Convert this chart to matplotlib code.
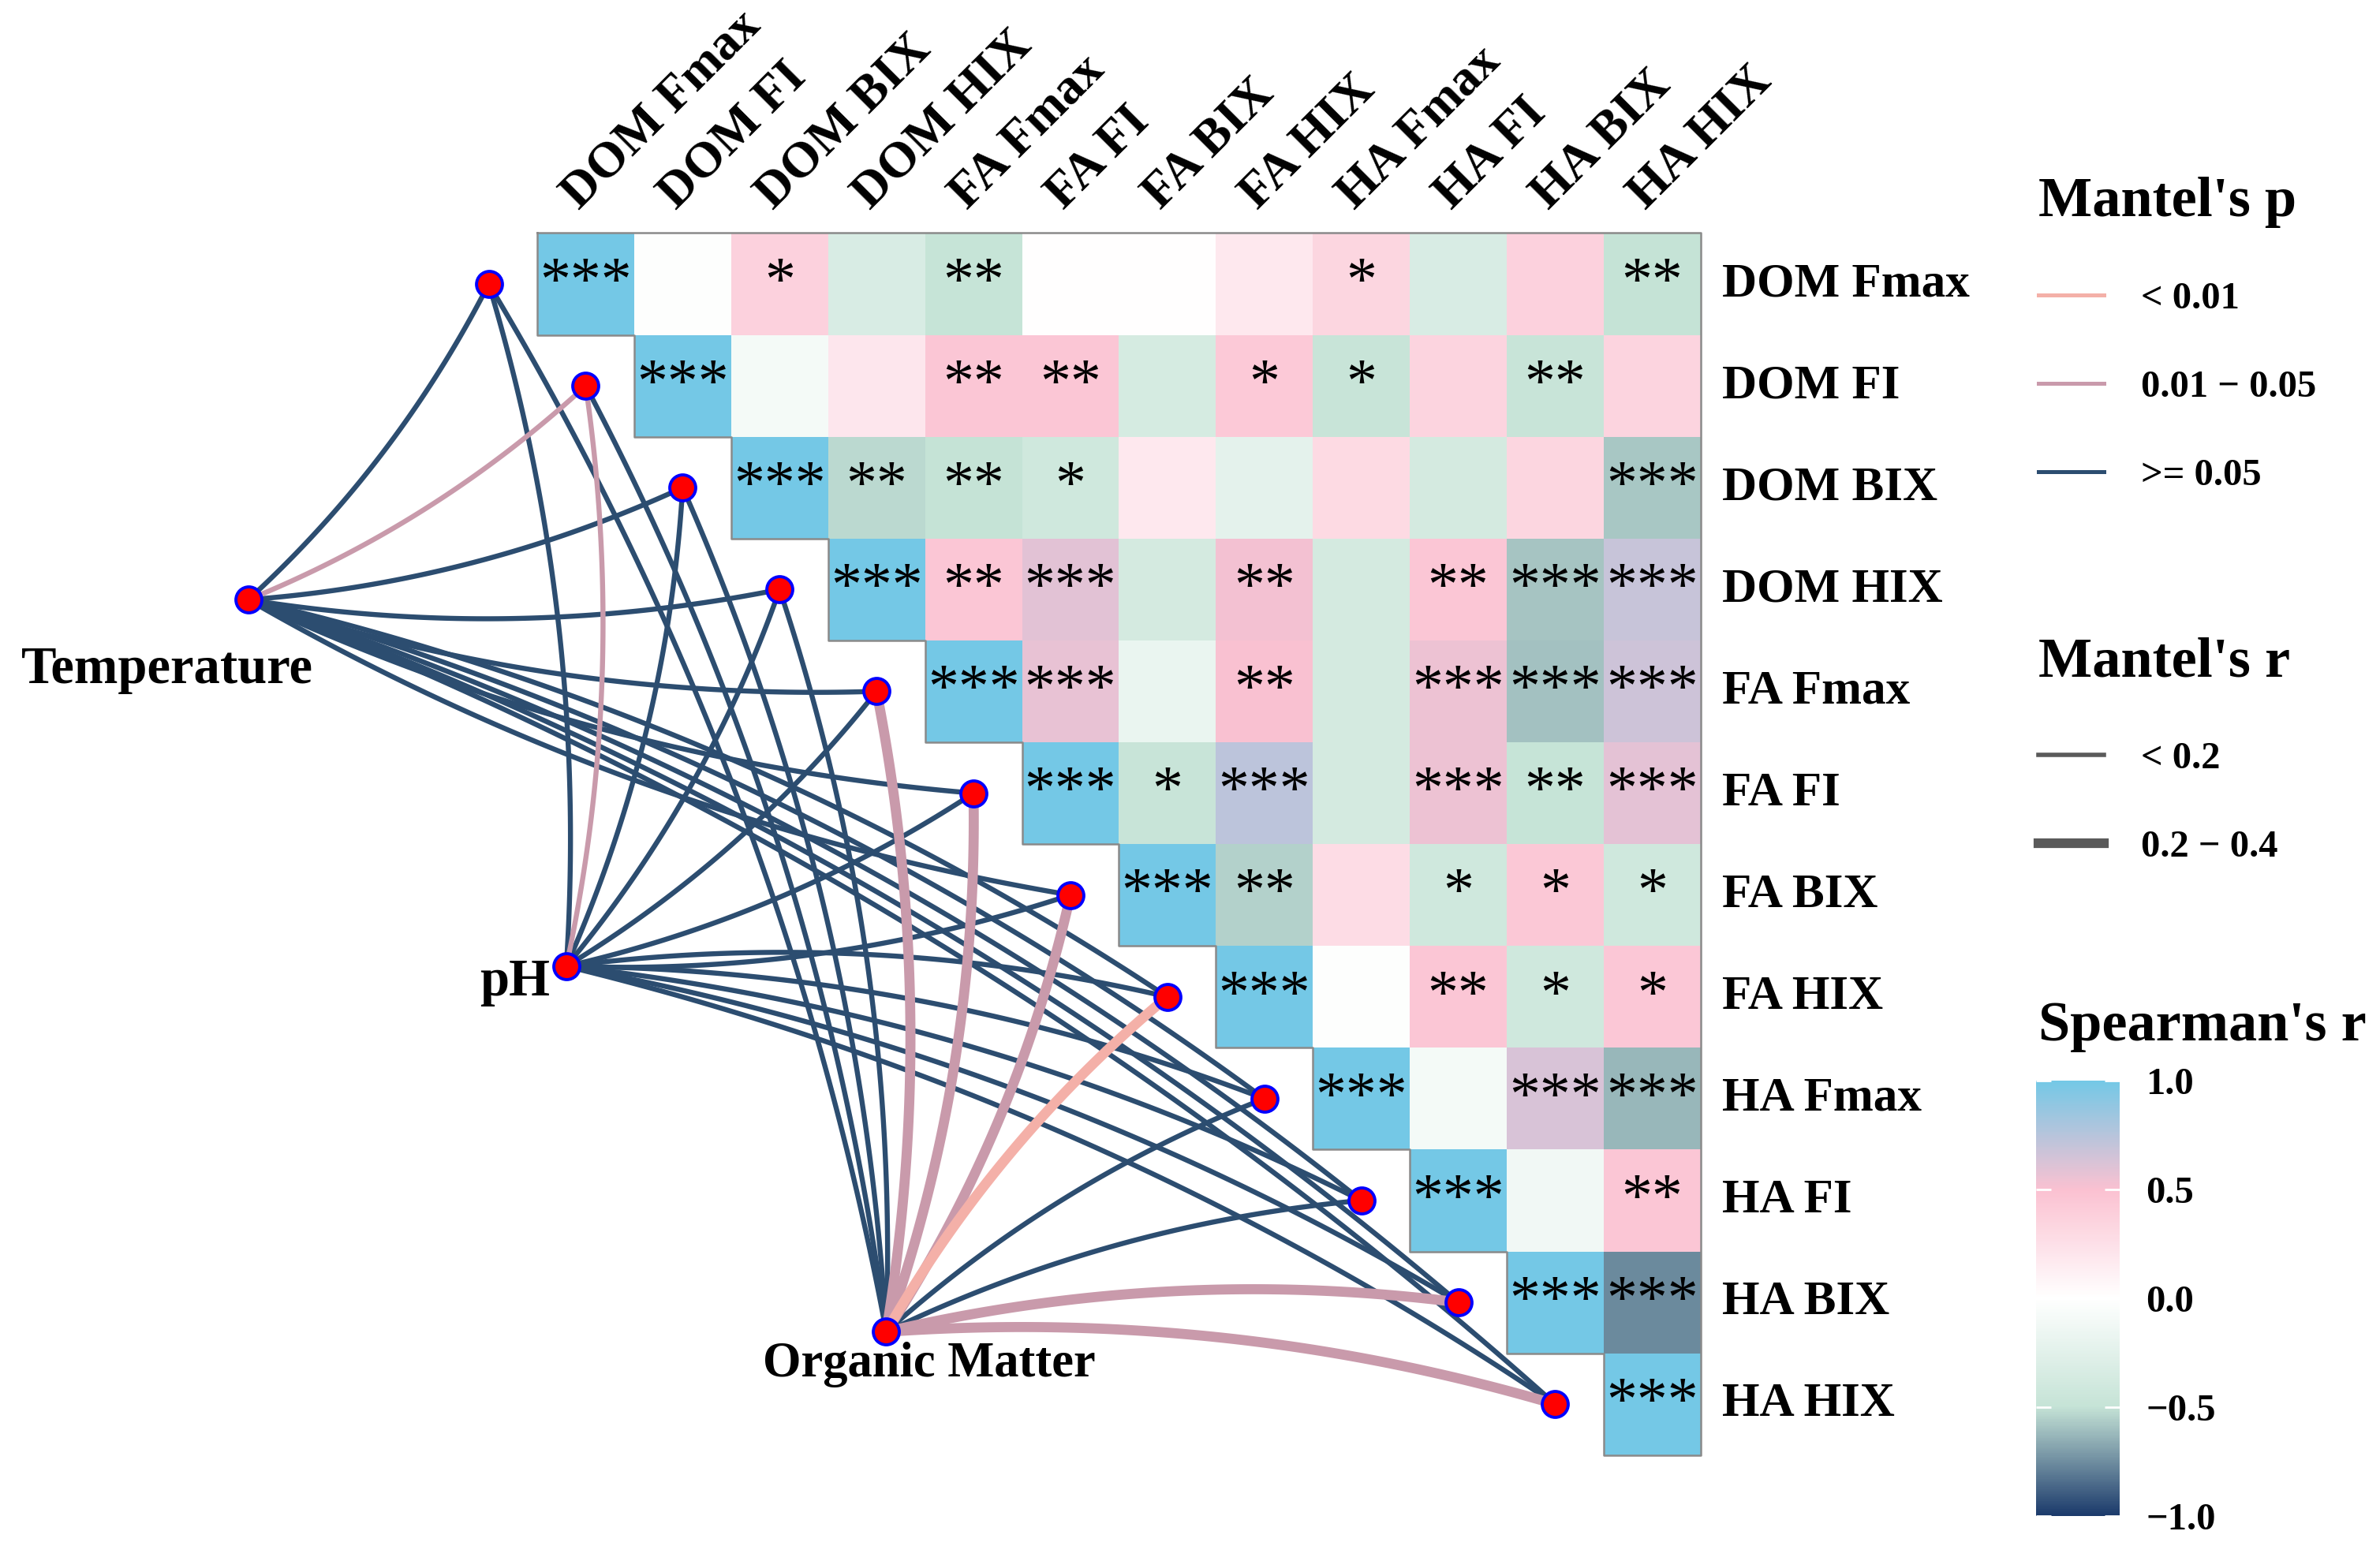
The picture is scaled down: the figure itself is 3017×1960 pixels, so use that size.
import numpy as np
import matplotlib
matplotlib.use("Agg")
from matplotlib import pyplot as plt
from matplotlib.colors import LinearSegmentedColormap
from matplotlib.lines import Line2D

plt.rcParams["font.family"] = ["Liberation Serif", "DejaVu Serif"]

items = ["DOM Fmax", "DOM FI", "DOM BIX", "DOM HIX", "FA Fmax", "FA FI",
         "FA BIX", "FA HIX", "HA Fmax", "HA FI", "HA BIX", "HA HIX"]
envs = ["Temperature", "pH", "Organic Matter"]

# Spearman's r, upper triangle, each row starts at the diagonal
rho_rows = [
    [1, -0.02, 0.37, -0.33, -0.49, 0.01, 0.01, 0.18, 0.33, -0.33, 0.37, -0.50],
    [1, -0.10, 0.20, 0.46, 0.46, -0.36, 0.43, -0.47, 0.35, -0.47, 0.35],
    [1, -0.53, -0.50, -0.41, 0.18, -0.23, 0.30, -0.37, 0.33, -0.58],
    [1, 0.46, 0.59, -0.37, 0.53, -0.37, 0.46, -0.59, 0.69],
    [1, 0.57, -0.18, 0.50, -0.37, 0.55, -0.60, 0.67],
    [1, -0.47, 0.73, -0.37, 0.55, -0.49, 0.58],
    [1, -0.55, 0.28, -0.41, 0.44, -0.41],
    [1, -0.02, 0.46, -0.41, 0.45],
    [1, -0.10, 0.63, -0.63],
    [1, -0.12, 0.46],
    [1, -0.76],
    [1],
]
star_rows = [
    ["***", "", "*", "", "**", "", "", "", "*", "", "", "**"],
    ["***", "", "", "**", "**", "", "*", "*", "", "**", ""],
    ["***", "**", "**", "*", "", "", "", "", "", "***"],
    ["***", "**", "***", "", "**", "", "**", "***", "***"],
    ["***", "***", "", "**", "", "***", "***", "***"],
    ["***", "*", "***", "", "***", "**", "***"],
    ["***", "**", "", "*", "*", "*"],
    ["***", "", "**", "*", "*"],
    ["***", "", "***", "***"],
    ["***", "", "**"],
    ["***", "***"],
    ["***"],
]

p_levels = ["< 0.01", "0.01 \u2212 0.05", ">= 0.05"]
r_levels = ["< 0.2", "0.2 \u2212 0.4"]
# index into p_levels / r_levels, one row per env
mantel_p = [
    [2, 1, 2, 2, 2, 2, 2, 2, 2, 2, 2, 2],
    [2, 1, 2, 2, 2, 2, 2, 2, 2, 2, 2, 2],
    [2, 2, 2, 2, 1, 1, 1, 0, 2, 2, 1, 1],
]
mantel_r = [
    [0, 0, 0, 0, 0, 0, 0, 0, 0, 0, 0, 0],
    [0, 0, 0, 0, 0, 0, 0, 0, 0, 0, 0, 0],
    [0, 0, 0, 0, 1, 1, 1, 1, 0, 0, 1, 1],
]

# styling / layout
p_colors = ["#F4B0A8", "#C99AAB", "#2C4D70"]
r_widths = [2.3, 4.6]
env_xy = [(-2.98, 3.60), (0.30, 7.20), (3.60, 10.79)]
env_lab = [(-0.84, 0.69, "center", 24), (-0.17, 0.16, "right", 24), (0.44, 0.32, "center", 22.5)]
cmap = LinearSegmentedColormap.from_list(
    "spear", ["#1B3A6B", "#C5E3D6", "#FFFFFF", "#FBC1D1", "#74C8E6"])

W, H = 3017, 1960
x0px, cw = 681, 122.9
y0px, ch = 295.5, 129.1

fig = plt.figure(figsize=(W / 200, H / 200), dpi=200)
ax = fig.add_axes([0, 0, 1, 1])
ax.set_xlim(-x0px / cw, (W - x0px) / cw)
ax.set_ylim((H - y0px) / ch, -y0px / ch)
ax.axis("off")

n = len(items)
rho = np.full((n, n), np.nan)
for i, row in enumerate(rho_rows):
    rho[i, i:] = row
mesh = ax.pcolormesh(np.arange(n + 1), np.arange(n + 1), np.ma.masked_invalid(rho),
                     cmap=cmap, vmin=-1, vmax=1, zorder=1)

# staircase outline
ox, oy = [0, n, n], [0, 0, n]
for i in range(n - 1, -1, -1):
    ox += [i, i]
    oy += [i + 1, i]
ax.plot(ox, oy, color="#8a8a8a", lw=0.9, zorder=3)

for i, row in enumerate(star_rows):
    for k, s in enumerate(row):
        if s:
            ax.text(i + k + 0.5, i + 0.5, s, ha="center", va="center",
                    fontsize=28, zorder=4)

for j, name in enumerate(items):
    ax.text(j + 0.43, -0.22, name, rotation=45, rotation_mode="anchor",
            ha="left", va="baseline", fontsize=23, fontweight="bold")
    ax.text(n + 0.22, j + 0.5, name, ha="left", va="center",
            fontsize=22, fontweight="bold")


def curve(p0, p1, side, k=0.09, m=80):
    # bend in screen units so the arc looks even
    x0, y0 = p0[0] * cw, p0[1] * ch
    x1, y1 = p1[0] * cw, p1[1] * ch
    dx, dy = x1 - x0, y1 - y0
    L = np.hypot(dx, dy)
    cx = (x0 + x1) / 2 + side * k * L * (-dy / L)
    cy = (y0 + y1) / 2 + side * k * L * (dx / L)
    t = np.linspace(0, 1, m)
    bx = (1 - t) ** 2 * x0 + 2 * (1 - t) * t * cx + t ** 2 * x1
    by = (1 - t) ** 2 * y0 + 2 * (1 - t) * t * cy + t ** 2 * y1
    return bx / cw, by / ch


item_x = np.arange(n) - 0.5
item_y = np.arange(n) + 0.5
for e in range(len(envs)):
    for k in range(n):
        cls = mantel_p[e][k]
        side = 1 if k <= 6 else -1
        bx, by = curve(env_xy[e], (item_x[k], item_y[k]), side)
        ax.plot(bx, by, color=p_colors[cls], lw=r_widths[mantel_r[e][k]],
                solid_capstyle="butt", zorder=2.5 if cls < 2 else 2)

ax.scatter(item_x, item_y, s=140, c="#FF0000", edgecolors="#0000FF",
           linewidths=1.4, zorder=6)
ex = [p[0] for p in env_xy]
ey = [p[1] for p in env_xy]
ax.scatter(ex, ey, s=140, c="#FF0000", edgecolors="#0000FF",
           linewidths=1.4, zorder=6)
for e, name in enumerate(envs):
    dx, dy, ha, fs = env_lab[e]
    ax.text(ex[e] + dx, ey[e] + dy, name, ha=ha, va="center",
            fontsize=fs, fontweight="bold")

# legends
leg_kw = dict(loc="upper left", bbox_transform=fig.transFigure, frameon=False,
              prop={"weight": "bold", "size": 17.5},
              title_fontproperties={"weight": "bold", "size": 26},
              alignment="left", handlelength=1.7, handletextpad=0.97,
              labelspacing=1.4, borderpad=0, borderaxespad=0)
lp = [Line2D([], [], color=c, lw=1.8) for c in p_colors]
leg1 = ax.legend(lp, p_levels, title="Mantel's p",
                 bbox_to_anchor=(2584 / W, 1 - 224 / H), **leg_kw)
ax.add_artist(leg1)
lr = [Line2D([], [], color="#5a5a5a", lw=w) for w in (2.0, 4.4)]
ax.legend(lr, r_levels, title="Mantel's r",
          bbox_to_anchor=(2584 / W, 1 - 807 / H), **leg_kw)

fig.text(2584 / W, 1 - 1302 / H, "Spearman's r", fontsize=26, fontweight="bold",
         ha="left", va="center")
cax = fig.add_axes([2581 / W, 1 - 1922 / H, 106 / W, 552 / H])
cb = fig.colorbar(mesh, cax=cax, ticks=[-1, -0.5, 0, 0.5, 1])
cb.outline.set_visible(False)
cax.tick_params(direction="in", length=7, width=1, color="white",
                left=True, right=True, labelsize=17.5, pad=12)
cax.set_yticklabels(["\u22121.0", "\u22120.5", "0.0", "0.5", "1.0"])
for lbl in cax.get_yticklabels():
    lbl.set_fontweight("bold")

fig.savefig("out.png", dpi=200)
